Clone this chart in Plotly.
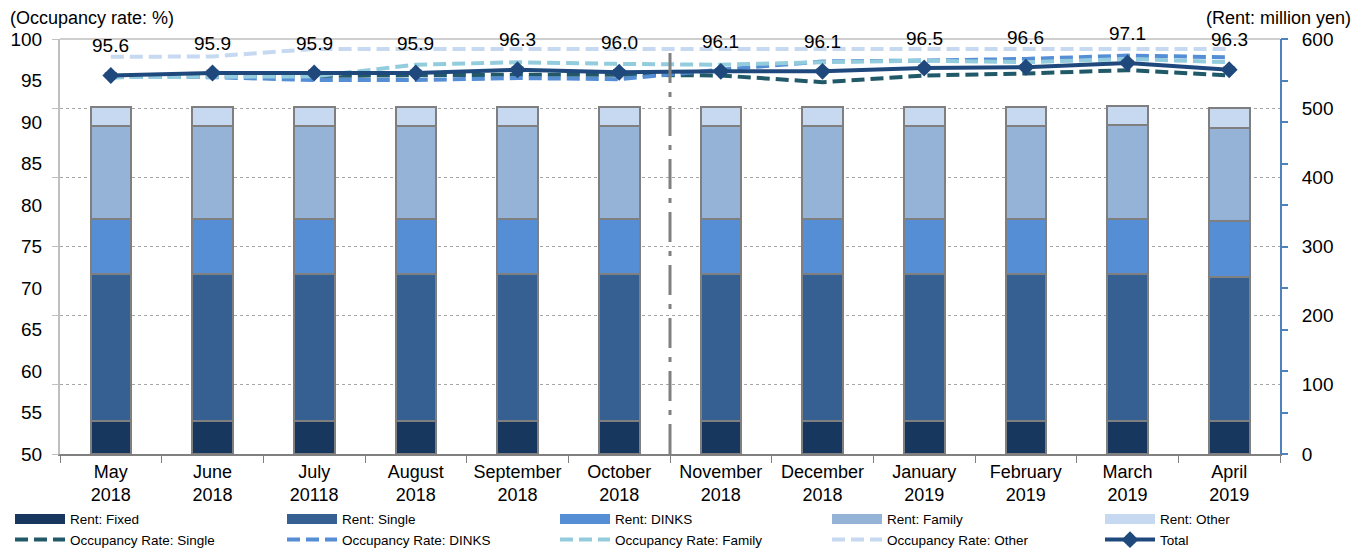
import plotly.graph_objects as go

categories = ["May<br>2018", "June<br>2018", "July<br>20118", "August<br>2018", "September<br>2018",
              "October<br>2018", "November<br>2018", "December<br>2018", "January<br>2019",
              "February<br>2019", "March<br>2019", "April<br>2019"]

rent_fixed = [47, 47, 47, 47, 47, 47, 47, 47, 47, 47, 47, 47]
rent_single = [213, 213, 213, 213, 213, 213, 213, 213, 213, 213, 213, 209]
rent_dinks = [80, 80, 80, 80, 80, 80, 80, 80, 80, 80, 80, 81]
rent_family = [134, 134, 134, 134, 134, 134, 134, 134, 134, 134, 135, 135]
rent_other = [28, 28, 28, 28, 28, 28, 28, 28, 28, 28, 28, 28]

occ_single = [95.4, 95.5, 95.6, 95.65, 95.7, 95.7, 95.6, 94.8, 95.6, 95.85, 96.25, 95.6]
occ_dinks = [95.5, 95.4, 95.05, 95.05, 95.3, 95.15, 96.3, 97.3, 97.4, 97.6, 98.0, 97.8]
occ_family = [95.4, 95.5, 95.5, 96.9, 97.2, 97.0, 96.9, 97.2, 97.4, 97.2, 97.6, 97.2]
occ_other = [97.85, 97.9, 98.8, 98.8, 98.8, 98.8, 98.8, 98.8, 98.8, 98.8, 98.8, 98.8]
occ_total = [95.6, 95.9, 95.9, 95.9, 96.3, 96.0, 96.1, 96.1, 96.5, 96.6, 97.1, 96.3]
total_err = [0.3, 0.3, 0.3, 0.3, 0.3, 0.3, 0.3, 0.3, 0.3, 0.3, 0.3, 0.3]

bar_series = [
    ("Rent: Fixed", rent_fixed, "#17375E"),
    ("Rent: Single", rent_single, "#366092"),
    ("Rent: DINKS", rent_dinks, "#558ED5"),
    ("Rent: Family", rent_family, "#95B3D7"),
    ("Rent: Other", rent_other, "#C6D9F1"),
]
line_series = [
    ("Occupancy Rate: Single", occ_single, "#215968"),
    ("Occupancy Rate: DINKS", occ_dinks, "#558ED5"),
    ("Occupancy Rate: Family", occ_family, "#93CDDD"),
    ("Occupancy Rate: Other", occ_other, "#C6D9F1"),
]
legend_ids = ["legend", "legend2", "legend3", "legend4", "legend5"]

FONT = "Liberation Sans, Arial, sans-serif"
fig = go.Figure()

for name, vals, col in bar_series:
    fig.add_trace(go.Bar(x=categories, y=vals, name=name, yaxis="y2", width=0.4,
                         marker=dict(color=col, line=dict(color="#7F7F7F", width=2)),
                         showlegend=False))

# legend swatches for the bar series (wide rectangles like the reference)
for i, (name, vals, col) in enumerate(bar_series):
    fig.add_trace(go.Scatter(x=[None], y=[None], mode="lines", name=name, yaxis="y",
                             line=dict(color=col, width=10), legend=legend_ids[i], legendrank=1))

for i, (name, vals, col) in enumerate(line_series):
    fig.add_trace(go.Scatter(x=categories, y=vals, name=name, mode="lines", yaxis="y",
                             line=dict(color=col, width=4, dash="13px,6px"),
                             legend=legend_ids[i], legendrank=2))

fig.add_trace(go.Scatter(x=categories, y=occ_total, name="Total", mode="lines+markers", yaxis="y",
                         line=dict(color="#1F497D", width=4),
                         marker=dict(symbol="diamond", size=13, color="#1F497D"),
                         error_y=dict(type="data", symmetric=False, array=total_err,
                                      arrayminus=[0] * len(total_err), color="#4A5A70",
                                      thickness=1.5, width=6),
                         legend="legend5", legendrank=2))

for c, v in zip(categories, occ_total):
    fig.add_annotation(x=c, y=v, yref="y", text=f"{v:.1f}", showarrow=False, yshift=30,
                       font=dict(size=19, color="black", family=FONT))

fig.add_shape(type="line", xref="x", yref="y2", x0=5.5, x1=5.5, y0=0, y1=583,
              line=dict(color="#808080", width=3, dash="30px,9px,5px,9px"))
fig.add_shape(type="line", xref="paper", yref="paper", x0=0, x1=1, y0=1, y1=1,
              line=dict(color="#BFBFBF", width=1.5))

fig.add_annotation(xref="paper", yref="paper", x=-0.043, y=1.0, yshift=21, xanchor="left",
                   yanchor="middle", text="(Occupancy rate: %)", showarrow=False,
                   font=dict(size=18, color="black", family=FONT))
fig.add_annotation(xref="paper", yref="paper", x=1.0595, y=1.0, yshift=21, xanchor="right",
                   yanchor="middle", text="(Rent: million yen)", showarrow=False,
                   font=dict(size=18, color="black", family=FONT))

leg_common = dict(orientation="v", xanchor="left", y=-0.12, yanchor="top", itemwidth=50,
                  font=dict(size=13.5), bgcolor="rgba(0,0,0,0)", traceorder="normal")
leg_px = [10, 282, 555, 827, 1100]
legends = {}
for lid, px in zip(legend_ids, leg_px):
    legends[lid] = dict(leg_common, x=(px - 60) / 1220)

fig.update_layout(
    width=1353, height=550,
    margin=dict(l=60, r=73, t=39, b=96, autoexpand=False),
    paper_bgcolor="white", plot_bgcolor="white",
    barmode="stack",
    font=dict(family=FONT, color="black"),
    xaxis=dict(range=[-0.5, 11.5], showline=True, linecolor="#808080", linewidth=2,
               ticks="outside", tickson="boundaries", ticklen=7, tickcolor="#808080",
               tickfont=dict(size=18), showgrid=False),
    yaxis=dict(range=[50, 100], dtick=5, showline=True, linecolor="#BFBFBF", linewidth=2,
               ticks="", showgrid=False, zeroline=False, tickfont=dict(size=19),
               ticklabelstandoff=12),
    yaxis2=dict(range=[0, 600], dtick=100, overlaying="y", side="right", showline=True,
                linecolor="#4F81BD", linewidth=2, ticks="", showgrid=True,
                gridcolor="#A6A6A6", griddash="dot", gridwidth=1, zeroline=False,
                tickfont=dict(size=19), ticklabelstandoff=16),
    yaxis3=dict(range=[50, 100], dtick=5, overlaying="y", side="right", showline=False,
                ticks="outside", ticklen=7, tickcolor="#4F81BD", tickwidth=1.5,
                showticklabels=False, showgrid=False, zeroline=False),
    yaxis4=dict(range=[0, 600], dtick=100, overlaying="y", side="left", showline=False,
                ticks="outside", ticklen=7, tickcolor="#BFBFBF", tickwidth=1,
                showticklabels=False, showgrid=False, zeroline=False),
    **legends,
)
# dummy traces to activate the tick-only axes
fig.add_trace(go.Scatter(x=[None], y=[None], yaxis="y3", showlegend=False, hoverinfo="skip"))
fig.add_trace(go.Scatter(x=[None], y=[None], yaxis="y4", showlegend=False, hoverinfo="skip"))

fig.write_html("out.html")
